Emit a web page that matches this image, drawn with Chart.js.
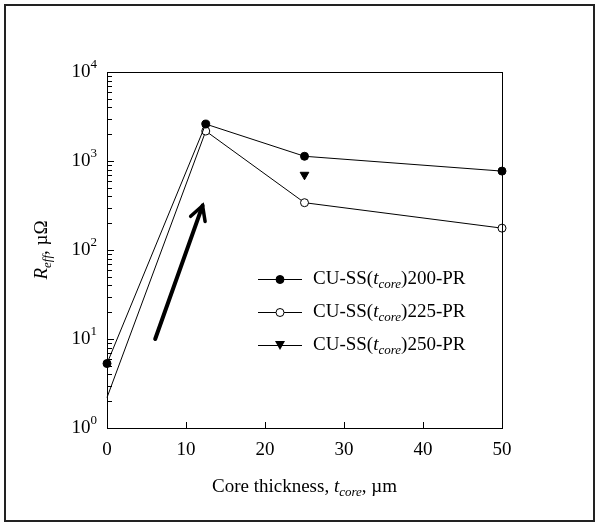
<!DOCTYPE html>
<html>
<head>
  <title>Reff vs core thickness</title>
  <script src="https://cdn.jsdelivr.net/npm/chart.js"></script>
  <style>
    html, body { margin: 0; padding: 0; background: #fff; }
    #wrap { width: 600px; height: 525px; position: relative; }
  </style>
</head>
<body>
  <div id="wrap"><canvas id="myChart"></canvas></div>
  <script>
    // data
    const thickness = [0, 12.5, 25, 50];
    const reff200 = [5.3, 2600, 1130, 770];
    const reff225 = [2.2, 2170, 340, 176];
    const thickness250 = [25];
    const reff250 = [700];
    const arrowX = [6.1, 12.1];
    const arrowY = [10, 315];
    const xTicks = [0, 10, 20, 30, 40, 50];
    const yMajor = [1, 10, 100, 1000, 10000];
    const yExp = ['0', '1', '2', '3', '4'];
    const seriesNames = ['200', '225', '250'];

    const FONT = "'Liberation Serif', 'Times New Roman', serif";

    function pts(xs, ys) {
      return xs.map((x, i) => ({ x: x, y: ys[i] }));
    }

    // draw a run of text pieces (normal / italic / subscript / superscript)
    function richWidth(ctx, parts) {
      let w = 0;
      parts.forEach(p => {
        ctx.font = (p.italic ? 'italic ' : '') + (p.small ? 13 : 19) + 'px ' + FONT;
        w += ctx.measureText(p.t).width;
      });
      return w;
    }
    function drawRich(ctx, parts, x, y) {
      ctx.textBaseline = 'middle';
      ctx.textAlign = 'left';
      parts.forEach(p => {
        ctx.font = (p.italic ? 'italic ' : '') + (p.small ? 13 : 19) + 'px ' + FONT;
        let dy = 0;
        if (p.sub) dy = 6;
        if (p.sup) dy = -7;
        ctx.fillText(p.t, x, y + dy);
        x += ctx.measureText(p.t).width;
      });
    }

    const decorations = {
      id: 'decorations',
      afterDraw(chart) {
        const ctx = chart.ctx;
        const xs = chart.scales.x, ys = chart.scales.y;
        const a = chart.chartArea;
        ctx.save();
        ctx.fillStyle = '#000';
        ctx.strokeStyle = '#000';

        // outer frame
        ctx.lineWidth = 2;
        ctx.strokeStyle = '#222';
        ctx.strokeRect(5, 5, 589, 516);

        // plot box
        ctx.strokeStyle = '#000';
        ctx.lineWidth = 1;
        ctx.strokeRect(Math.round(a.left) + 0.5, Math.round(a.top) + 0.5,
          Math.round(a.right - a.left), Math.round(a.bottom - a.top));

        // inward y ticks (log)
        ctx.beginPath();
        for (let d = 0; d < 4; d++) {
          for (let m = 1; m <= 9; m++) {
            const v = Math.pow(10, d) * m;
            const py = Math.round(ys.getPixelForValue(v)) + 0.5;
            const len = m === 1 ? 7 : 5;
            ctx.moveTo(a.left, py);
            ctx.lineTo(a.left + len, py);
          }
        }
        // inward x ticks
        xTicks.slice(1, -1).forEach(v => {
          const px = Math.round(xs.getPixelForValue(v)) + 0.5;
          ctx.moveTo(px, a.bottom);
          ctx.lineTo(px, a.bottom - 6);
        });
        ctx.stroke();

        // y tick labels 10^n
        yMajor.forEach((v, i) => {
          const py = ys.getPixelForValue(v);
          const parts = [{ t: '10' }, { t: yExp[i], small: true, sup: true }];
          drawRich(ctx, parts, 97 - richWidth(ctx, parts), py);
        });

        // axis titles
        const xt = [{ t: 'Core thickness, ' }, { t: 't', italic: true },
          { t: 'core', italic: true, small: true, sub: true }, { t: ', \u00b5m' }];
        drawRich(ctx, xt, (a.left + a.right) / 2 - richWidth(ctx, xt) / 2, 487);

        const yt = [{ t: 'R', italic: true }, { t: 'eff', italic: true, small: true, sub: true },
          { t: ', \u00b5\u03a9' }];
        ctx.save();
        ctx.translate(42, (a.top + a.bottom) / 2);
        ctx.rotate(-Math.PI / 2);
        drawRich(ctx, yt, -richWidth(ctx, yt) / 2, 0);
        ctx.restore();

        // arrowhead on the arrow dataset
        const tx = xs.getPixelForValue(arrowX[1]), ty = ys.getPixelForValue(arrowY[1]);
        const sx = xs.getPixelForValue(arrowX[0]), sy = ys.getPixelForValue(arrowY[0]);
        const ang = Math.atan2(ty - sy, tx - sx);
        ctx.lineWidth = 3.5;
        ctx.lineCap = 'round';
        ctx.lineJoin = 'miter';
        ctx.beginPath();
        ctx.moveTo(tx - 16 * Math.cos(ang - 0.5), ty - 16 * Math.sin(ang - 0.5));
        ctx.lineTo(tx, ty);
        ctx.lineTo(tx - 16 * Math.cos(ang + 0.5), ty - 16 * Math.sin(ang + 0.5));
        ctx.stroke();

        // legend inside the plot
        const rows = [279, 312, 345];
        ctx.lineWidth = 1;
        ctx.lineCap = 'butt';
        rows.forEach((ry, i) => {
          ctx.beginPath();
          ctx.moveTo(258, ry + 0.5);
          ctx.lineTo(302, ry + 0.5);
          ctx.stroke();
          ctx.beginPath();
          if (i === 2) {
            ctx.moveTo(275, ry - 4);
            ctx.lineTo(285, ry - 4);
            ctx.lineTo(280, ry + 5);
            ctx.closePath();
            ctx.fill();
          } else {
            ctx.arc(280, ry + 0.5, 4, 0, Math.PI * 2);
            ctx.fillStyle = i === 0 ? '#000' : '#fff';
            ctx.fill();
            ctx.stroke();
            ctx.fillStyle = '#000';
          }
          drawRich(ctx, [{ t: 'CU-SS(' }, { t: 't', italic: true },
            { t: 'core', italic: true, small: true, sub: true },
            { t: ')' + seriesNames[i] + '-PR' }], 313, ry);
        });
        ctx.restore();
      }
    };

    const ctx = document.getElementById('myChart').getContext('2d');
    new Chart(ctx, {
      type: 'scatter',
      data: {
        datasets: [
          {
            label: 'arrow',
            data: pts(arrowX, arrowY),
            showLine: true,
            borderColor: '#000',
            borderWidth: 4,
            borderCapStyle: 'round',
            pointRadius: 0
          },
          {
            label: 'CU-SS(tcore)200-PR',
            data: pts(thickness, reff200),
            showLine: true,
            clip: false,
            borderColor: '#000',
            backgroundColor: '#000',
            borderWidth: 1,
            pointRadius: 4,
            pointBorderWidth: 1
          },
          {
            label: 'CU-SS(tcore)225-PR',
            data: pts(thickness, reff225),
            showLine: true,
            clip: false,
            borderColor: '#000',
            backgroundColor: '#fff',
            borderWidth: 1,
            pointRadius: [0, 4, 4, 4],
            pointBorderWidth: 1
          },
          {
            label: 'CU-SS(tcore)250-PR',
            data: pts(thickness250, reff250),
            showLine: false,
            borderColor: '#000',
            backgroundColor: '#000',
            pointStyle: 'triangle',
            rotation: 180,
            pointRadius: 5
          }
        ]
      },
      options: {
        responsive: true,
        maintainAspectRatio: false,
        animation: false,
        layout: { padding: { top: 72, right: 98, left: 0, bottom: 0 } },
        plugins: {
          legend: { display: false },
          tooltip: { enabled: false }
        },
        scales: {
          x: {
            type: 'linear',
            min: 0,
            max: 50,
            afterBuildTicks: scale => { scale.ticks = xTicks.map(v => ({ value: v })); },
            afterFit: scale => { scale.height = 97; },
            grid: { display: false, drawTicks: false },
            border: { display: false },
            ticks: {
              padding: 11,
              color: '#000',
              font: { family: FONT, size: 19 }
            }
          },
          y: {
            type: 'logarithmic',
            min: 1,
            max: 10000,
            afterFit: scale => { scale.width = 107; },
            grid: { display: false, drawTicks: false },
            border: { display: false },
            ticks: { display: false }
          }
        }
      },
      plugins: [decorations]
    });
  </script>
</body>
</html>
